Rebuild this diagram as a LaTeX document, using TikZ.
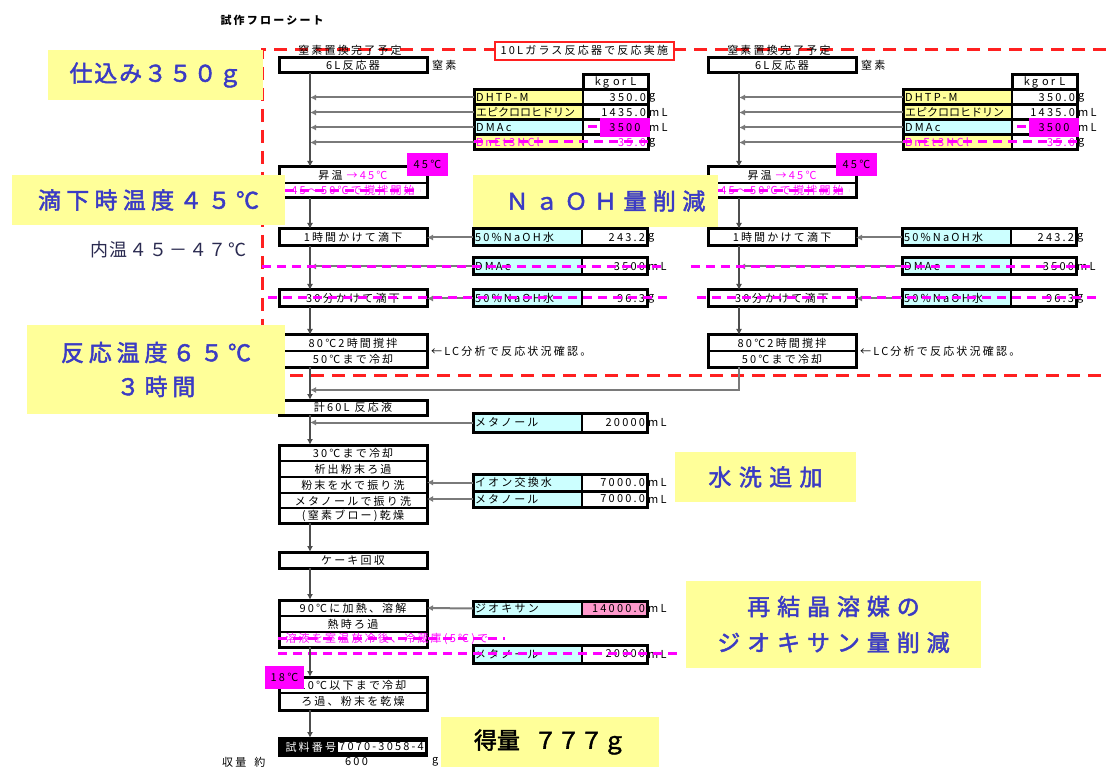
\documentclass[tikz,border=0pt]{standalone}
\usepackage{fontspec}
\usetikzlibrary{arrows.meta}
\newfontfamily\smallf{Noto Sans CJK JP}[LetterSpace=20]
\newfontfamily\annof{Noto Sans CJK JP}[FakeBold=2]
\newfontfamily\plainf{Noto Sans CJK JP}
\definecolor{annoyellow}{HTML}{FFFF99}
\definecolor{annoblue}{HTML}{3B3BC4}
\definecolor{cellcyan}{HTML}{CCFFFF}
\definecolor{cellyellow}{HTML}{FFFF99}
\definecolor{cellpink}{HTML}{FF99CC}
\definecolor{mag}{HTML}{FF00FF}
\definecolor{flowgray}{HTML}{4D4D4D}
\definecolor{feedgray}{HTML}{7A7A7A}
\definecolor{dashred}{HTML}{FF2020}
\definecolor{notecol}{HTML}{2A2A50}
\tikzset{
  sf/.style={font=\smallf\fontsize{11}{12}\selectfont},
  proc/.style={sf, draw=black, line width=3pt, fill=white, minimum width=148pt, minimum height=16pt, inner sep=0pt, outer sep=0pt, anchor=north west},
  prow/.style={sf, draw=black, line width=1.6pt, fill=white, minimum width=148pt, minimum height=16pt, inner sep=0pt, outer sep=0pt, anchor=north west},
  lab/.style={sf, draw=black, line width=1.6pt, minimum width=109pt, inner sep=2pt, outer sep=0pt, text width=105pt, align=left, anchor=north west},
  val/.style={sf, draw=black, line width=1.6pt, minimum width=65pt, inner sep=2pt, outer sep=0pt, text width=61pt, align=right, anchor=north west},
  unitlbl/.style={sf, anchor=west, inner sep=1pt},
  frame/.style={draw=black, line width=3pt},
  flowline/.style={draw=flowgray, line width=1.8pt},
  flowarrow/.style={flowline, -{Latex[length=6pt,width=6pt]}},
  feedarrow/.style={draw=feedgray, line width=2pt, -{Latex[length=6pt,width=6pt]}},
  strike/.style={draw=mag, line width=3pt, dash pattern=on 9pt off 6pt},
  reddash/.style={draw=dashred, line width=3pt, dash pattern=on 13pt off 8pt},
  tag/.style={sf, fill=mag, inner sep=0pt, outer sep=0pt, anchor=north west},
  anno/.style={fill=annoyellow, text=annoblue, inner sep=0pt, outer sep=0pt, align=center, anchor=north west},
}
% table row: name, x, y, height, label fill, label, value, unit, value fill
\newcommand\tabrow[9]{%
  \node[lab, fill=#5, minimum height=#4pt] (#1) at (#2,#3) {#6};
  \node[val, fill=#9, minimum height=#4pt] (#1v) at (#1.north east) {#7};
  \node[unitlbl] (#1u) at (#1v.east) {#8};
  \draw[frame] (#1.north west) rectangle (#1v.south east);
}
% one reaction column: prefix, x shift
\newcommand\reactcol[2]{%
\begin{scope}[xshift=#2pt]
  \coordinate (#1fx) at (310,0);
  \node[sf] (#1start) at (350,50) {窒素置換完了予定};
  \node[proc, minimum height=15pt] (#1six) at (279,58) {6L反応器};
  \node[unitlbl] (#1nit) at (#1six.east) {\hspace{4pt}窒素};
  % charge table
  \node[val, fill=white, minimum height=15pt, align=center] (#1hdr) at (583,75) {kg\hspace{4pt}or\hspace{4pt}L};
  \draw[frame] (#1hdr.north west) rectangle (#1hdr.south east);
  \tabrow{#1ra}{474}{90}{15}{cellyellow}{DHTP-M}{350.0}{g}{white}
  \tabrow{#1rb}{474}{105}{15}{cellyellow}{\addfontfeature{LetterSpace=0}エピクロロヒドリン}{1435.0}{mL}{white}
  \tabrow{#1rc}{474}{120}{15}{cellcyan}{DMAc}{}{mL}{white}
  \tabrow{#1rd}{474}{135}{15}{cellyellow}{\textcolor{mag}{BnEt3NCl}}{\textcolor{mag}{35.0}}{g}{white}
  \node[tag, minimum width=50pt, minimum height=19pt] (#1new) at (600,118) {3500};
  \draw[strike] (588,127) -- (598,127);
  \foreach \r in {ra,rb,rc,rd}{\draw[feedarrow] (#1\r.west) -- (#1\r.west -| #1fx);}
  % heating
  \node[prow, minimum height=16pt] (#1heatA) at (279,167) {昇温\hspace{4pt}\textcolor{mag}{→45℃}};
  \node[prow, minimum height=15pt] (#1heatB) at (279,183) {\textcolor{mag}{45～50℃で撹拌開始}};
  \draw[frame] (#1heatA.north west) rectangle (#1heatB.south east);
  \node[tag, minimum width=41pt, minimum height=23pt] (#1tag) at (407,153) {45℃};
  % dropping
  \node[proc, minimum height=17pt] (#1drop) at (279,229) {1時間かけて滴下};
  \tabrow{#1naoh}{473}{229}{17}{cellcyan}{50\%NaOH水}{243.2}{g}{white}
  \draw[feedarrow] (#1naoh.west) -- (#1drop.east);
  \tabrow{#1dmac}{473}{258}{17}{cellcyan}{DMAc}{3500}{mL}{white}
  \draw[feedarrow] (#1dmac.west) -- (#1dmac.west -| #1fx);
  \node[proc, minimum height=17pt] (#1thirty) at (279,290) {30分かけて滴下};
  \tabrow{#1naohb}{473}{290}{17}{cellcyan}{50\%NaOH水}{96.3}{g}{white}
  \draw[feedarrow] (#1naohb.west) -- (#1thirty.east);
  % reaction
  \node[prow] (#1reactA) at (279,335) {80℃2時間撹拌};
  \node[prow] (#1reactB) at (279,351) {50℃まで冷却};
  \draw[frame] (#1reactA.north west) rectangle (#1reactB.south east);
  \node[unitlbl] (#1lc) at (#1reactA.south east) {\hspace{3pt}←LC分析で反応状況確認。};
  % flow
  \draw[flowarrow] (#1six.south -| #1fx) -- (#1heatA.north -| #1fx);
  \draw[flowarrow] (#1heatB.south -| #1fx) -- (#1drop.north -| #1fx);
  \draw[flowarrow] (#1drop.south -| #1fx) -- (#1thirty.north -| #1fx);
  \draw[flowarrow] (#1thirty.south -| #1fx) -- (#1reactA.north -| #1fx);
  % strikes
  \draw[strike] (262,267) -- (665,267);
  \draw[strike] (268,298) -- (668,298);
  \draw[strike] (474,142) -- (648,142);
  \draw[strike] (285,191) -- (420,191);
\end{scope}}
\begin{document}
\begin{tikzpicture}[x=1pt,y=-1pt]
\useasboundingbox[fill=white] (0,0) rectangle (1106,767);
\clip (0,0) rectangle (1106,767);
% red dashed region
\draw[reddash] (1106,50) -- (262,50) -- (262,375) -- (1106,375);
\node[sf, font=\smallf\bfseries\fontsize{11}{12}\selectfont, anchor=west] (title) at (217,20) {試作フローシート};
\node[sf, draw=dashred, line width=1.6pt, fill=white, minimum width=179pt, minimum height=18pt, anchor=north west, inner sep=0pt] (vessel) at (494,41) {10Lガラス反応器で反応実施};
\reactcol{L}{0}
\reactcol{R}{429}
% merge
\coordinate (merge) at (310,390);
\draw[feedarrow] (RreactB.south -| Rfx) |- (merge);
% work-up
\node[proc, minimum height=15pt] (sixty) at (279,400) {計60L\hspace{5pt}反応液};
\draw[flowarrow] (LreactB.south -| Lfx) -- (sixty.north -| Lfx);
\tabrow{meoh}{473}{413}{19}{cellcyan}{メタノール}{20000}{mL}{white}
\draw[feedarrow] (meoh.west) -- (meoh.west -| Lfx);
\node[prow] (wa) at (279,445) {30℃まで冷却};
\node[prow] (wb) at (279,461) {析出粉末ろ過};
\node[prow] (wc) at (279,477) {粉末を水で振り洗};
\node[prow] (wd) at (279,493) {メタノールで振り洗};
\node[prow, minimum height=15pt] (we) at (279,508) {(窒素ブロー)乾燥};
\draw[frame] (wa.north west) rectangle (we.south east);
\draw[flowarrow] (sixty.south -| Lfx) -- (wa.north -| Lfx);
\tabrow{water}{473}{474}{17}{cellcyan}{イオン交換水}{7000.0}{mL}{white}
\tabrow{meohb}{473}{491}{16}{cellcyan}{メタノール}{7000.0}{mL}{white}
\draw[feedarrow] (water.west) -- (water.west -| wc.east);
\draw[feedarrow] (meohb.west) -- (meohb.west -| wd.east);
\node[proc, minimum height=16pt] (cake) at (279,552) {ケーキ回収};
\draw[flowarrow] (we.south -| Lfx) -- (cake.north -| Lfx);
% recrystallisation
\node[prow] (xa) at (279,600) {90℃に加熱、溶解};
\node[prow] (xb) at (279,616) {熱時ろ過};
\node[prow, draw=none, fill=none, minimum height=15pt] (xc) at (279,632) {};
\draw[frame] (xa.north west) rectangle (xc.south east);
\node[sf, anchor=west, text=mag] (xcnote) at (282,639) {溶液を室温放冷後、冷蔵庫(5℃)で};
\draw[flowarrow] (cake.south -| Lfx) -- (xa.north -| Lfx);
\tabrow{diox}{473}{601}{15}{cellcyan}{ジオキサン}{14000.0}{mL}{cellpink}
\draw[feedarrow] (diox.west) -- (xa.east);
\tabrow{meohc}{473}{645}{18}{cellcyan}{メタノール}{20000}{mL}{white}
\draw[strike] (278,638) -- (505,638);
\draw[strike] (278,653) -- (677,653);
\node[prow] (ya) at (279,677) {10℃以下まで冷却};
\node[prow, minimum height=17pt] (yb) at (279,693) {ろ過、粉末を乾燥};
\draw[frame] (ya.north west) rectangle (yb.south east);
\draw[flowarrow] (xc.south -| Lfx) -- (ya.north -| Lfx);
\node[tag, minimum width=39pt, minimum height=23pt] (tag18) at (265,666) {18℃};
\node[draw=black, fill=black, line width=2pt, minimum width=148pt, minimum height=18pt, inner sep=0pt, outer sep=0pt, anchor=north west] (sample) at (279,738) {};
\node[sf, text=white, anchor=west] (sname) at (282,747) {試料番号};
\node[sf, fill=white, anchor=east, inner sep=1pt] (sno) at (425,747) {7070-3058-4};
\draw[flowarrow] (yb.south -| Lfx) -- (sample.north -| Lfx);
\node[sf, anchor=north west, inner sep=0pt] (yl) at (222,757) {収量\hspace{8pt}約};
\node[sf, anchor=north west, inner sep=0pt] (yv) at (345,757) {600};
\node[sf, anchor=north west, inner sep=0pt] (yu) at (432,757) {g};
% annotations
\node[anno, minimum width=215pt, minimum height=50pt, font={\annof\fontsize{23}{30}\selectfont\addfontfeature{LetterSpace=8}}] (n1) at (48,50) {仕込み３５０ｇ};
\node[anno, minimum width=273pt, minimum height=50pt, font={\annof\fontsize{23}{30}\selectfont\addfontfeature{LetterSpace=23}}] (n2) at (12,175) {滴下時温度４５℃};
\node[anchor=east, text=notecol, inner sep=0pt, font={\plainf\fontsize{18}{22}\selectfont\addfontfeature{LetterSpace=10}}] (n2b) at (247,250) {内温４５－４７℃};
\node[anno, minimum width=245pt, minimum height=52pt, font={\annof\fontsize{23}{30}\selectfont\addfontfeature{LetterSpace=28}}] (n3) at (473,175) {\hspace*{20pt}ＮａＯＨ量削減};
\node[anno, minimum width=258pt, minimum height=89pt, font={\annof\fontsize{23}{34}\selectfont\addfontfeature{LetterSpace=21}}] (n4) at (27,325) {反応温度６５℃\\３時間};
\node[anno, minimum width=181pt, minimum height=50pt, font={\annof\fontsize{23}{30}\selectfont\addfontfeature{LetterSpace=32}}] (n5) at (675,452) {水洗追加};
\node[anno, minimum width=295pt, minimum height=87pt, font={\annof\fontsize{23}{36}\selectfont\addfontfeature{LetterSpace=30}}] (n6) at (686,581) {再結晶溶媒の\\ジオキサン量削減};
\node[anno, text=black, minimum width=218pt, minimum height=50pt, font={\annof\fontsize{23}{30}\selectfont}] (n7) at (441,717) {得量\hspace{14pt}７７７ｇ};
\end{tikzpicture}
\end{document}
